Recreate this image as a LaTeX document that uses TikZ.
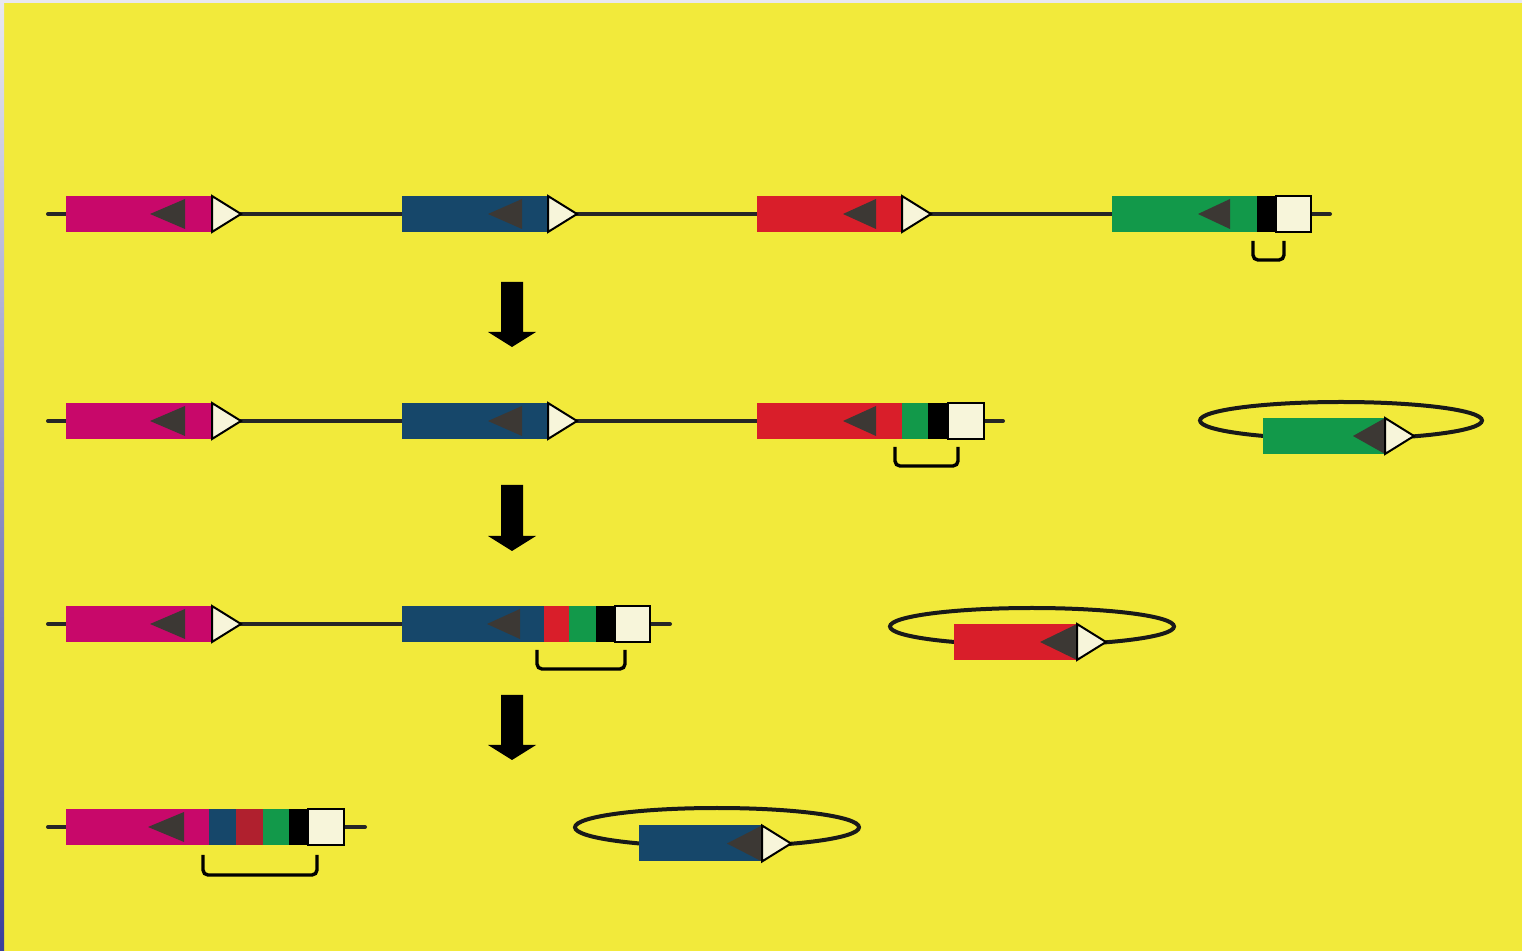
\documentclass[tikz,border=0pt]{standalone}
\usetikzlibrary{shapes.geometric}
\definecolor{bgyellow}{HTML}{F2EA3B}
\definecolor{edgegrey}{HTML}{E9E8F0}
\definecolor{edgeblue}{HTML}{3A3F9C}
\definecolor{genemagenta}{HTML}{C8086A}
\definecolor{geneblue}{HTML}{16476A}
\definecolor{genered}{HTML}{D91E2A}
\definecolor{darkred}{HTML}{B0202E}
\definecolor{genegreen}{HTML}{12994A}
\definecolor{promgrey}{HTML}{3C3834}
\definecolor{cream}{HTML}{F7F5DA}
\tikzset{
  dna/.style={line width=2pt, draw=black!85, line cap=round},
  loop/.style={line width=2pt, draw=black!90},
  promtri/.style={fill=promgrey},
  sitetri/.style={fill=cream, draw=black, line width=1pt, line join=miter},
  capbox/.style={fill=cream, draw=black, line width=1pt},
  bracket/.style={line width=1.7pt, draw=black, rounded corners=2.5pt},
  bigarrow/.style={fill=black}
}
% block of one colour, x0 to x1, centred on yc
\newcommand\dnaseg[4]{\fill[#4] (#1,#3-18) rectangle (#2,#3+18);}
% dark left-pointing triangle: tip x, base x, yc, half height
\newcommand\promo[4]{\fill[promtri] (#1,#3) -- (#2,#3-#4) -- (#2,#3+#4) -- cycle;}
% white right-pointing triangle: base x, yc
\newcommand\loxsite[2]{\filldraw[sitetri] (#1,#2-18) -- (#1+29,#2) -- (#1,#2+18) -- cycle;}
% black stripe and white square: x0, x1, x2, yc
\newcommand\tailcap[4]{\fill[black] (#1,#4-18) rectangle (#2,#4+18);
  \filldraw[capbox] (#2,#4-18) rectangle (#3,#4+18);}
% open bracket under a block: x0, x1, ytop, ybottom
\newcommand\brkt[4]{\draw[bracket] (#1,#3) -- (#1,#4) -- (#2,#4) -- (#2,#3);}
% downward block arrow: centre x, top y, head y, bottom y
\newcommand\blockarrow[4]{\fill[bigarrow] (#1-11,#2) -- (#1+11,#2) -- (#1+11,#3) -- (#1+24,#3)
  -- (#1,#4) -- (#1-24,#3) -- (#1-11,#3) -- cycle;}
\begin{document}
\begin{tikzpicture}[x=0.5pt,y=-0.5pt]
\useasboundingbox (0,0) rectangle (1522,951);
% background and frame edges
\fill[bgyellow] (0,0) rectangle (1522,951);
\fill[edgegrey] (0,0) rectangle (1522,3);
\shade[top color=edgegrey, bottom color=edgeblue] (0,0) rectangle (4,951);

% ---- row 1: four genes in tandem
\coordinate (r1a) at (48,214);
\coordinate (r1b) at (1330,214);
\draw[dna] (r1a) -- (r1b);
\dnaseg{66}{212}{214}{genemagenta}\promo{150}{185}{214}{15}\loxsite{212}{214}
\dnaseg{402}{548}{214}{geneblue}\promo{488}{522}{214}{15}\loxsite{548}{214}
\dnaseg{757}{902}{214}{genered}\promo{843}{876}{214}{15}\loxsite{902}{214}
\dnaseg{1112}{1257}{214}{genegreen}\promo{1198}{1230}{214}{15}
\tailcap{1257}{1276}{1311}{214}
\brkt{1253}{1284}{241}{260}

\blockarrow{512}{282}{332}{347}

% ---- row 2: green gene excised as a circle
\coordinate (r2a) at (48,421);
\coordinate (r2b) at (1003,421);
\draw[dna] (r2a) -- (r2b);
\dnaseg{66}{212}{421}{genemagenta}\promo{150}{185}{421}{15}\loxsite{212}{421}
\dnaseg{402}{548}{421}{geneblue}\promo{488}{522}{421}{15}\loxsite{548}{421}
\dnaseg{757}{902}{421}{genered}\promo{843}{876}{421}{15}
\dnaseg{902}{928}{421}{genegreen}
\tailcap{928}{948}{984}{421}
\brkt{895}{958}{447}{466}

\draw[loop] (1341,420.5) ellipse [x radius=141, y radius=18.5];
\dnaseg{1263}{1385}{436}{genegreen}\promo{1353}{1385}{436}{18}\loxsite{1385}{436}

\blockarrow{512}{485}{536}{551}

% ---- row 3: red gene excised
\coordinate (r3a) at (48,624);
\coordinate (r3b) at (670,624);
\draw[dna] (r3a) -- (r3b);
\dnaseg{66}{212}{624}{genemagenta}\promo{150}{185}{624}{15}\loxsite{212}{624}
\dnaseg{402}{544}{624}{geneblue}\promo{487}{520}{624}{15}
\dnaseg{544}{569}{624}{genered}
\dnaseg{569}{596}{624}{genegreen}
\tailcap{596}{615}{650}{624}
\brkt{537}{625}{650}{669}

\draw[loop] (1032,626.5) ellipse [x radius=142, y radius=18.5];
\dnaseg{954}{1077}{642}{genered}\promo{1040}{1077}{642}{18}\loxsite{1077}{642}

\blockarrow{512}{695}{745}{760}

% ---- row 4: blue gene excised
\coordinate (r4a) at (48,827);
\coordinate (r4b) at (365,827);
\draw[dna] (r4a) -- (r4b);
\dnaseg{66}{209}{827}{genemagenta}\promo{148}{184}{827}{15}
\dnaseg{209}{236}{827}{geneblue}
\dnaseg{236}{263}{827}{darkred}
\dnaseg{263}{289}{827}{genegreen}
\tailcap{289}{308}{344}{827}
\brkt{203}{317}{855}{875}

\draw[loop] (717,827.3) ellipse [x radius=142, y radius=19.3];
\dnaseg{639}{762}{843.5}{geneblue}\promo{727}{762}{843.5}{18}\loxsite{762}{843.5}
\end{tikzpicture}
\end{document}
